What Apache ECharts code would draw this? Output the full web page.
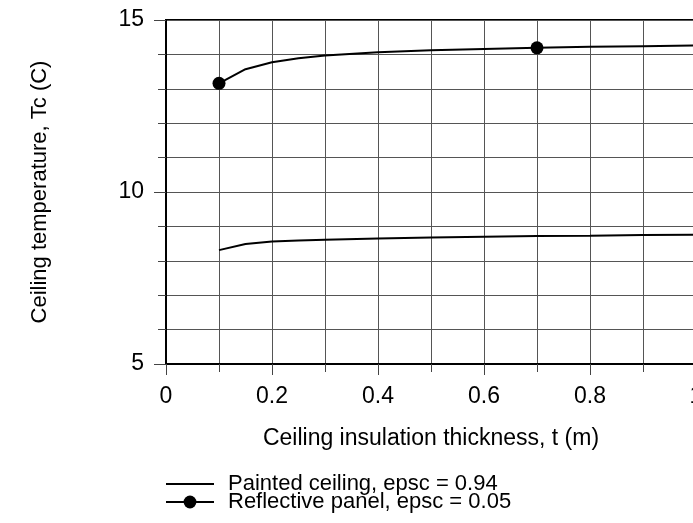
<!DOCTYPE html>
<html><head><meta charset="utf-8">
<script src="https://cdn.jsdelivr.net/npm/echarts@6/dist/echarts.min.js"></script>
<style>html,body{margin:0;padding:0;background:#fff}#c{width:693px;height:523px}</style>
</head><body><div id="c"></div>
<script>
const thickness = [0.1, 0.15, 0.2, 0.25, 0.3, 0.4, 0.5, 0.6, 0.7, 0.8, 0.9, 1.0];
const painted = [8.31, 8.49, 8.56, 8.59, 8.61, 8.65, 8.68, 8.70, 8.72, 8.73, 8.75, 8.76];
const reflective = [13.16, 13.57, 13.77, 13.89, 13.97, 14.06, 14.12, 14.16, 14.19, 14.22, 14.24, 14.26];
const markedThickness = [0.1, 0.7];
const seriesNames = ['Painted ceiling, epsc = 0.94', 'Reflective panel, epsc = 0.05'];
const xTitle = 'Ceiling insulation thickness, t (m)';
const yTitle = 'Ceiling temperature, Tc (C)';

const FONT = '"Liberation Sans", Arial, sans-serif';
const FS = 23;
const chart = echarts.init(document.getElementById('c'), null, {renderer: 'canvas'});
const pts = (ys) => thickness.map((x, i) => [x, ys[i]]);
const reflData = thickness.map((x, i) => ({
  value: [x, reflective[i]],
  symbol: markedThickness.includes(x) ? 'circle' : 'none'
}));
chart.setOption({
  animation: false,
  backgroundColor: '#fff',
  textStyle: {fontFamily: FONT, color: '#000'},
  grid: {left: 166, top: 20, width: 530, height: 344, show: true, borderColor: '#000', borderWidth: 2, containLabel: false, outerBoundsMode: 'none'},
  legend: {
    orient: 'vertical', left: 165, top: 473, height: 50, padding: 0,
    itemWidth: 48, itemHeight: 16, itemGap: -4,
    textStyle: {fontFamily: FONT, fontSize: 22, color: '#000', padding: [0, 0, 0, 9]},
    data: [
      {name: seriesNames[0], itemStyle: {opacity: 0}},
      {name: seriesNames[1]}
    ]
  },
  xAxis: {
    type: 'value', min: 0, max: 1, interval: 0.2,
    name: xTitle, nameLocation: 'middle', nameGap: 63,
    nameTextStyle: {fontFamily: FONT, fontSize: FS, color: '#000'},
    axisLine: {show: true, onZero: false, lineStyle: {color: '#000', width: 2}},
    axisTick: {show: true, length: 11, lineStyle: {color: '#444'}},
    minorTick: {show: true, splitNumber: 2, length: 8, lineStyle: {color: '#444'}},
    splitLine: {show: true, lineStyle: {color: '#555', width: 1}},
    minorSplitLine: {show: true, lineStyle: {color: '#555', width: 1}},
    axisLabel: {fontFamily: FONT, fontSize: FS, color: '#000', margin: 21, formatter: v => String(Math.round(v * 10) / 10)}
  },
  yAxis: {
    type: 'value', min: 5, max: 15, interval: 5,
    name: yTitle, nameLocation: 'middle', nameGap: 115, nameRotate: 90,
    nameTextStyle: {fontFamily: FONT, fontSize: 22, color: '#000'},
    axisLine: {show: true, onZero: false, lineStyle: {color: '#000', width: 2}},
    axisTick: {show: true, length: 12, lineStyle: {color: '#444'}},
    minorTick: {show: true, splitNumber: 5, length: 8, lineStyle: {color: '#444'}},
    splitLine: {show: true, lineStyle: {color: '#555', width: 1}},
    minorSplitLine: {show: true, lineStyle: {color: '#555', width: 1}},
    axisLabel: {fontFamily: FONT, fontSize: FS, color: '#000', margin: 22}
  },
  series: [
    {name: seriesNames[0], type: 'line', data: pts(painted), symbol: 'none', smooth: false,
     lineStyle: {color: '#000', width: 2}, itemStyle: {color: '#000'}},
    {name: seriesNames[1], type: 'line', data: reflData, symbol: 'circle', symbolSize: 13, showAllSymbol: true,
     lineStyle: {color: '#000', width: 2}, itemStyle: {color: '#000'}}
  ]
});
</script></body></html>
